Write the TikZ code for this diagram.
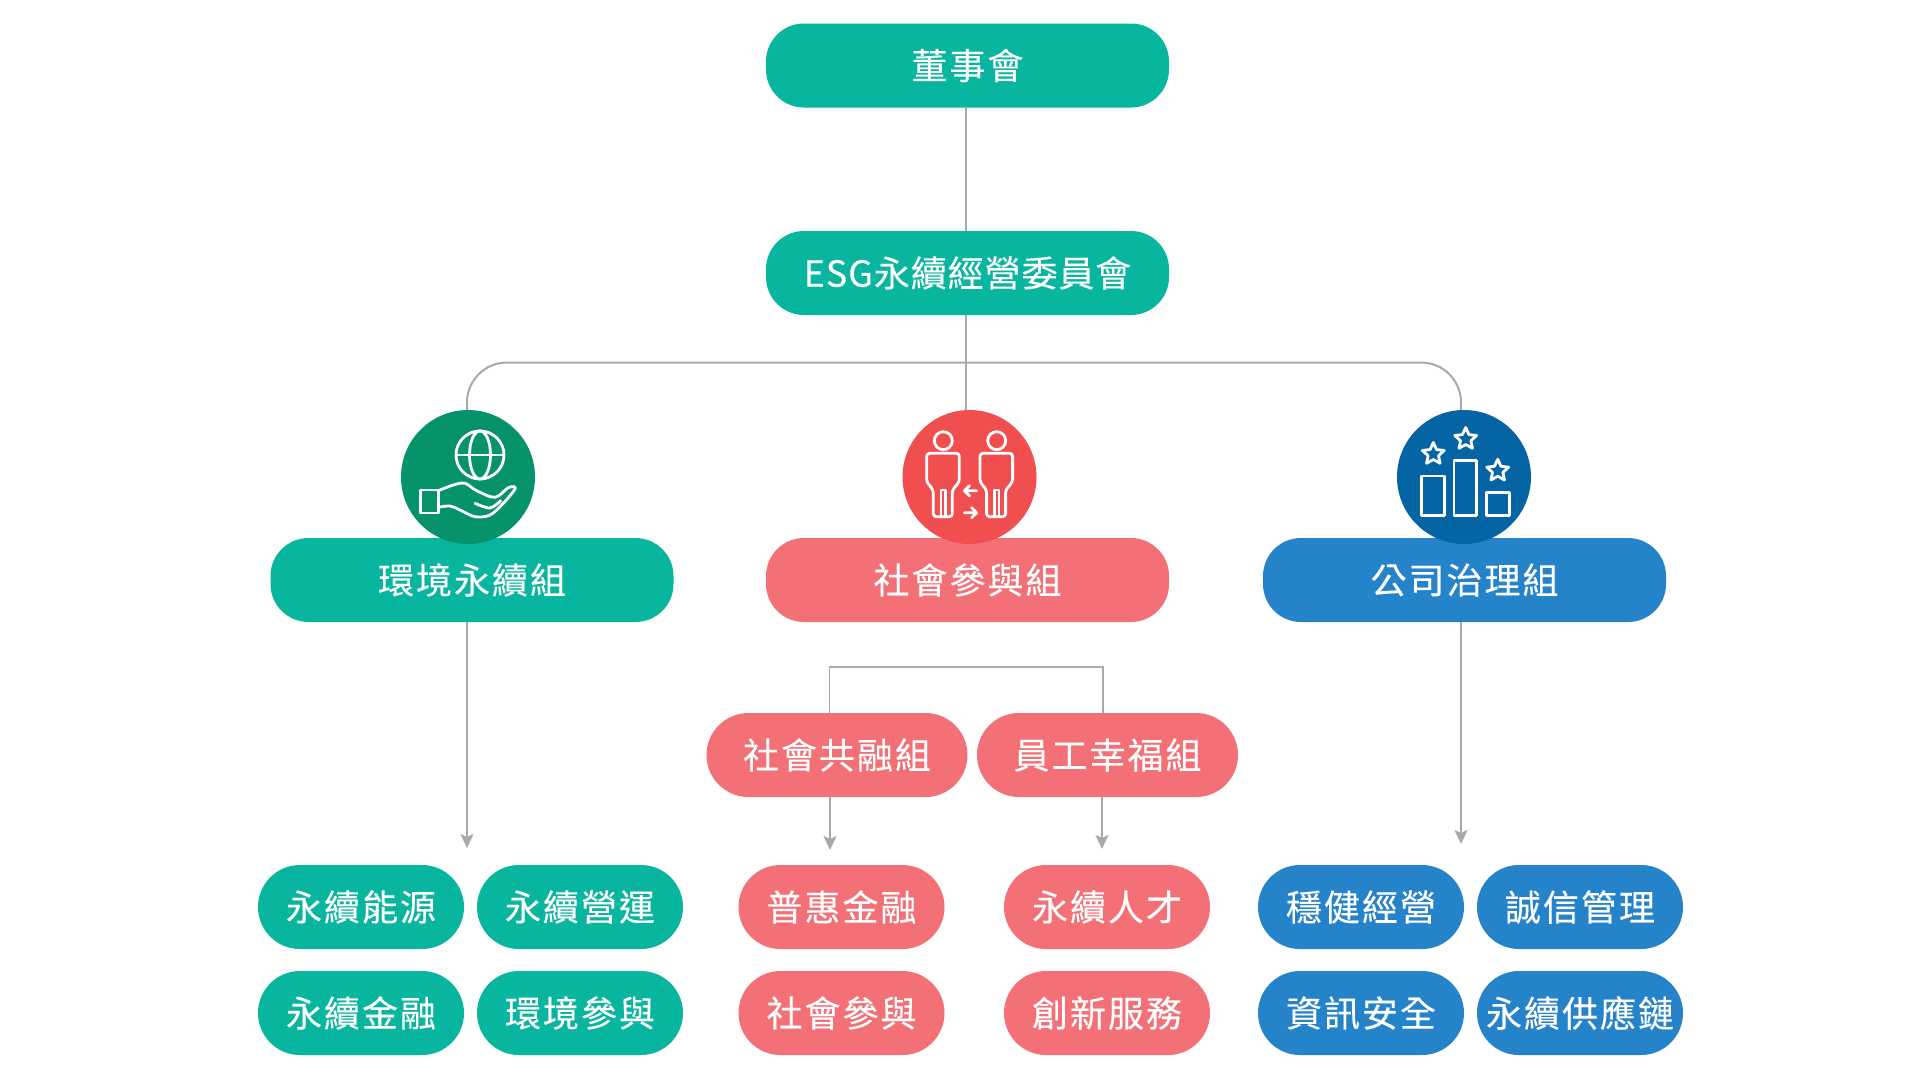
\documentclass[tikz,border=0pt]{standalone}
\usepackage{fontspec}
\usetikzlibrary{arrows.meta,shapes.geometric}
\newfontfamily\cjk[LetterSpace=5.5,FakeBold=0.2]{Noto Sans CJK TC}
\newfontfamily\cjktight[LetterSpace=2.5,FakeBold=0.2]{Noto Sans CJK TC}
\definecolor{teal1}{HTML}{08B59F}
\definecolor{pink1}{HTML}{F37176}
\definecolor{blue1}{HTML}{2583C9}
\definecolor{greenc}{HTML}{06936B}
\definecolor{redc}{HTML}{F14E50}
\definecolor{bluec}{HTML}{0565A4}
\definecolor{linegray}{HTML}{A9A9AD}
\tikzset{
  pill/.style={rectangle,minimum height=84pt,inner sep=0pt,text=white,font=\cjk\fontsize{36}{36}\selectfont},
  pillbig/.style={pill,minimum width=403pt,rounded corners=38pt},
  pillmid/.style={pill,minimum width=261pt,rounded corners=42pt},
  pillsmall/.style={pill,minimum width=206pt,rounded corners=42pt},
  iconcircle/.style={circle,minimum size=134pt,inner sep=0pt},
  conn/.style={draw=linegray,line width=2pt},
  connthin/.style={draw=linegray,line width=1.6pt},
  arrowconn/.style={conn,-{Stealth[length=14pt,width=13pt,inset=3pt]}},
  iconline/.style={draw=white,line width=2.8pt,line join=round,line cap=round},
  starshape/.style={star,star points=5,star point ratio=2.1,minimum size=23pt,inner sep=0pt,draw=white,line width=2.8pt,line join=round}
}
\begin{document}
\begin{tikzpicture}[x=1pt,y=-1pt]
\useasboundingbox (0,0) rectangle (1920,1080);
\fill[white] (0,0) rectangle (1920,1080);

% top
\node[pillbig,fill=teal1] (board) at (967.5,65.5) {董事會};
\node[pillbig,fill=teal1,font=\cjktight\fontsize{36}{36}\selectfont] (esg) at (967.5,273) {ESG永續經營委員會};

% groups
\node[pillbig,fill=teal1] (env) at (472,580) {環境永續組};
\node[pillbig,fill=pink1] (soc) at (967.5,580) {社會參與組};
\node[pillbig,fill=blue1] (gov) at (1464.5,580) {公司治理組};

% icon circles
\node[iconcircle,fill=greenc] (ic1) at (468,477) {};
\node[iconcircle,fill=redc] (ic2) at (969.5,477) {};
\node[iconcircle,fill=bluec] (ic3) at (1464,477) {};

\node[pillmid,fill=pink1] (soc1) at (837,755) {社會共融組};
\node[pillmid,fill=pink1] (soc2) at (1107.5,755) {員工幸福組};

% leaves
\node[pillsmall,fill=teal1] (e1) at (361,907) {永續能源};
\node[pillsmall,fill=teal1] (e2) at (580,907) {永續營運};
\node[pillsmall,fill=teal1] (e3) at (361,1013) {永續金融};
\node[pillsmall,fill=teal1] (e4) at (580,1013) {環境參與};
\node[pillsmall,fill=pink1] (s1) at (841.5,907) {普惠金融};
\node[pillsmall,fill=pink1] (s2) at (1107,907) {永續人才};
\node[pillsmall,fill=pink1] (s3) at (841.5,1013) {社會參與};
\node[pillsmall,fill=pink1] (s4) at (1107,1013) {創新服務};
\node[pillsmall,fill=blue1] (g1) at (1361,907) {穩健經營};
\node[pillsmall,fill=blue1] (g2) at (1580,907) {誠信管理};
\node[pillsmall,fill=blue1] (g3) at (1361,1013) {資訊安全};
\node[pillsmall,fill=blue1] (g4) at (1580,1013) {永續供應鏈};

% free connector ends
\coordinate (hub) at (966,362.5);
\coordinate (brk) at (966,667);
\coordinate (tipe) at (467,848);
\coordinate (tips1) at (830,850);
\coordinate (tips2) at (1102,849);
\coordinate (tipg) at (1461,844);

% connectors
\draw[conn] ([xshift=-1.5pt]board.south) -- ([xshift=-1.5pt]esg.north);
\draw[conn] ([xshift=-1.5pt]esg.south) -- ([xshift=-3.5pt]ic2.north);
\draw[conn,rounded corners=40pt] ([xshift=-1pt]ic1.north) |- (hub);
\draw[conn,rounded corners=40pt] (hub) -| ([xshift=-3pt]ic3.north);
\draw[connthin] ([xshift=-7.5pt]soc1.north) |- (brk) -| ([xshift=-4.5pt]soc2.north);
\draw[arrowconn] ([xshift=-5pt]env.south) -- (tipe);
\draw[arrowconn] ([xshift=-7pt]soc1.south) -- (tips1);
\draw[arrowconn] ([xshift=-5.5pt]soc2.south) -- (tips2);
\draw[arrowconn] ([xshift=-3.5pt]gov.south) -- (tipg);

% icon: hand with globe
\draw[iconline] (480,455) circle (24);
\draw[iconline] (480,455) ellipse (10.5 and 24);
\draw[iconline] (456,455) -- (504,455);
\draw[iconline] (420.7,490) rectangle (438.3,513);
\draw[iconline] plot[smooth,tension=0.55] coordinates {(438.3,490.7) (453.3,485) (465,483.3) (476.7,490.7) (495,497.3) (508.3,487.7) (515.3,488.3) (503.3,503.3) (490,515) (475,516.7) (460,510) (450,506) (438.3,507.3)};
\draw[iconline] plot[smooth,tension=0.55] coordinates {(475,503.3) (490,508) (500.7,500.7)};

% icon: two people
\draw[iconline] (943.3,440.7) circle (9);
\draw[iconline] (996.7,440.7) circle (9);
\foreach \dx in {0,53.3}{
\begin{scope}[xshift=\dx pt]
\draw[iconline,rounded corners=3pt] (926.7,453.3) -- (959.3,453.3) -- (959.3,482) -- (952.3,490) -- (952.3,516.7) -- (933.3,516.7) -- (933.3,490) -- (926.7,482) -- cycle;
\draw[iconline] (941,516.7) -- (941,490) -- (945.7,490) -- (945.7,516.7);
\end{scope}}
\draw[iconline] (976.7,490.7) -- (964.3,490.7) (969.5,485.5) -- (964.3,490.7) -- (969.5,495.9);
\draw[iconline] (964.3,512.7) -- (976.7,512.7) (971.5,507.5) -- (976.7,512.7) -- (971.5,517.9);

% icon: bars and stars
\draw[iconline] (1421.7,476) rectangle (1444.3,515.7);
\draw[iconline] (1454,460.7) rectangle (1476.7,515.7);
\draw[iconline] (1486.7,492.7) rectangle (1509.3,515.7);
\node[starshape] (st1) at (1433.3,454) {};
\node[starshape] (st2) at (1465.7,439) {};
\node[starshape] (st3) at (1497.7,470.7) {};
\end{tikzpicture}
\end{document}
